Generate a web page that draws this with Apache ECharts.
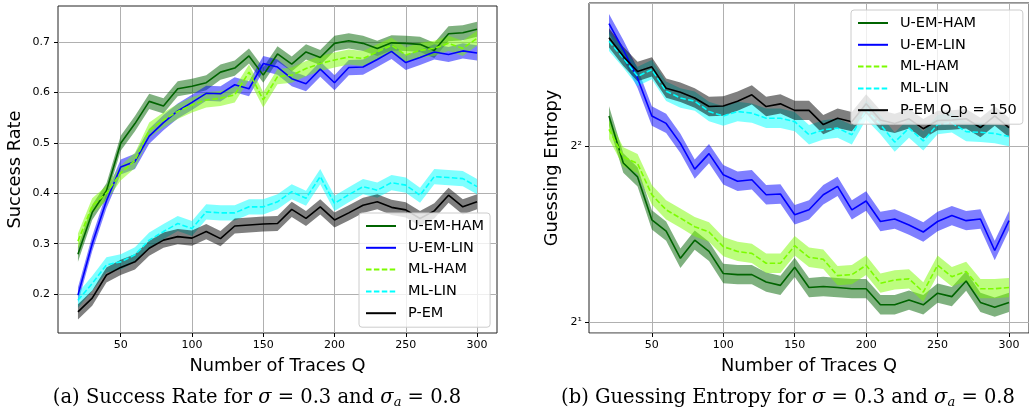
<!DOCTYPE html>
<html>
<head>
<meta charset="utf-8">
<script src="https://cdn.jsdelivr.net/npm/echarts@6/dist/echarts.min.js"></script>
<style>
  html, body { margin: 0; padding: 0; background: #fff; }
  #chart { width: 1029px; height: 414px; }
</style>
</head>
<body>
<div id="chart"></div>
<script>
// number of traces Q
const Q = [20, 30, 40, 50, 60, 70, 80, 90, 100, 110, 120, 130, 140, 150, 160, 170, 180, 190, 200, 210, 220, 230, 240, 250, 260, 270, 280, 290, 300];
const xTicks = [50, 100, 150, 200, 250, 300];
const srTicks = [0.2, 0.3, 0.4, 0.5, 0.6, 0.7];

// (a) success rate
const srUemHam = [0.279, 0.362, 0.405, 0.499, 0.538, 0.582, 0.573, 0.607, 0.612, 0.619, 0.640, 0.648, 0.672, 0.634, 0.676, 0.656, 0.680, 0.669, 0.697, 0.702, 0.697, 0.687, 0.698, 0.697, 0.695, 0.683, 0.716, 0.718, 0.725];
const srUemLin = [0.198, 0.300, 0.385, 0.452, 0.463, 0.513, 0.540, 0.563, 0.580, 0.598, 0.597, 0.615, 0.607, 0.657, 0.650, 0.627, 0.617, 0.646, 0.619, 0.649, 0.650, 0.665, 0.681, 0.659, 0.669, 0.680, 0.675, 0.682, 0.678];
const srMlHam = [0.305, 0.375, 0.400, 0.440, 0.465, 0.525, 0.545, 0.562, 0.575, 0.585, 0.588, 0.595, 0.640, 0.585, 0.631, 0.634, 0.647, 0.657, 0.664, 0.670, 0.667, 0.680, 0.693, 0.674, 0.683, 0.687, 0.697, 0.687, 0.707];
const srMlLin = [0.188, 0.221, 0.258, 0.264, 0.278, 0.307, 0.324, 0.340, 0.330, 0.363, 0.361, 0.361, 0.373, 0.373, 0.383, 0.403, 0.390, 0.433, 0.380, 0.397, 0.413, 0.406, 0.421, 0.416, 0.396, 0.433, 0.431, 0.429, 0.413];
const srPem = [0.165, 0.192, 0.238, 0.253, 0.264, 0.291, 0.307, 0.314, 0.311, 0.324, 0.310, 0.335, 0.337, 0.339, 0.340, 0.368, 0.350, 0.373, 0.347, 0.361, 0.376, 0.383, 0.372, 0.367, 0.350, 0.365, 0.396, 0.373, 0.383];
const srBand = 0.015;   // half width of the shaded band

// (b) guessing entropy
const geUemHam = [4.50, 3.74, 3.54, 2.99, 2.86, 2.57, 2.76, 2.64, 2.42, 2.41, 2.41, 2.34, 2.31, 2.48, 2.29, 2.30, 2.29, 2.28, 2.28, 2.14, 2.14, 2.18, 2.14, 2.24, 2.21, 2.35, 2.16, 2.12, 2.16];
const geUemLin = [6.47, 5.84, 5.22, 4.50, 4.37, 4.04, 3.65, 3.88, 3.57, 3.48, 3.50, 3.30, 3.31, 3.05, 3.11, 3.30, 3.41, 3.11, 3.22, 2.97, 3.00, 2.93, 2.85, 2.97, 3.04, 2.98, 3.00, 2.65, 2.98];
const geMlHam = [4.27, 3.83, 3.73, 3.30, 3.11, 3.01, 2.91, 2.85, 2.69, 2.64, 2.62, 2.52, 2.52, 2.70, 2.58, 2.56, 2.40, 2.41, 2.50, 2.33, 2.36, 2.37, 2.25, 2.50, 2.39, 2.44, 2.28, 2.28, 2.29];
const geMlLin = [6.04, 5.65, 5.26, 5.40, 4.96, 4.83, 4.77, 4.58, 4.50, 4.58, 4.55, 4.46, 4.46, 4.40, 4.18, 4.26, 4.29, 4.18, 4.61, 4.35, 4.06, 4.29, 4.08, 4.35, 4.38, 4.23, 4.22, 4.20, 4.15];
const gePem = [6.12, 5.69, 5.36, 5.46, 5.02, 4.94, 4.83, 4.67, 4.68, 4.77, 4.89, 4.67, 4.72, 4.60, 4.60, 4.35, 4.46, 4.40, 4.72, 4.43, 4.37, 4.45, 4.28, 4.42, 4.43, 4.45, 4.30, 4.50, 4.30];
const geBand = 0.055;   // half width of the band, in log2 units

const namesA = ['U-EM-HAM', 'U-EM-LIN', 'ML-HAM', 'ML-LIN', 'P-EM'];
const namesB = ['U-EM-HAM', 'U-EM-LIN', 'ML-HAM', 'ML-LIN', 'P-EM Q_p = 150'];
const lineColors = ['#006400', '#0000ff', '#7cfc00', '#00ffff', '#000000'];
const bandColors = ['rgba(0,100,0,0.5)', 'rgba(0,0,255,0.5)', 'rgba(124,252,0,0.5)', 'rgba(0,255,255,0.5)', 'rgba(0,0,0,0.5)'];
const dashed = [false, false, true, true, false];

const FONT = 'DejaVu Sans';
const SERIF = 'DejaVu Serif';
const chart = echarts.init(document.getElementById('chart'), null, { renderer: 'canvas' });

function bandSeries(idx, lo, hi, color) {
  return {
    type: 'custom',
    xAxisIndex: idx,
    yAxisIndex: idx,
    silent: true,
    clip: true,
    encode: { x: 0, y: [1, 2] },
    data: Q.map((q, i) => [q, lo[i], hi[i]]),
    renderItem: function (params, api) {
      if (params.dataIndex !== 0) return null;
      const top = Q.map((q, i) => api.coord([q, hi[i]]));
      const bot = Q.map((q, i) => api.coord([q, lo[i]])).reverse();
      return { type: 'polygon', shape: { points: top.concat(bot) }, style: { fill: color } };
    }
  };
}

function lineSeries(idx, name, values, k) {
  return {
    type: 'line',
    name: name,
    xAxisIndex: idx,
    yAxisIndex: idx,
    symbol: 'none',
    data: Q.map((q, i) => [q, values[i]]),
    lineStyle: { color: lineColors[k], width: 1.6, type: dashed[k] ? [5.5, 2.4] : 'solid' },
    itemStyle: { color: lineColors[k] }
  };
}

const series = [];
[srUemHam, srUemLin, srMlHam, srMlLin, srPem].forEach((vals, k) => {
  series.push(bandSeries(0, vals.map(v => v - srBand), vals.map(v => v + srBand), bandColors[k]));
  series.push(lineSeries(0, namesA[k], vals, k));
});
[geUemHam, geUemLin, geMlHam, geMlLin, gePem].forEach((vals, k) => {
  const f = Math.pow(2, geBand);
  series.push(bandSeries(1, vals.map(v => v / f), vals.map(v => v * f), bandColors[k]));
  series.push(lineSeries(1, namesB[k], vals, k));
});

const gridLine = { show: true, lineStyle: { color: '#b0b0b0', width: 1 } };
const tickStyle = { show: true, length: 4, inside: false, lineStyle: { color: '#000', width: 1 } };
const labelStyle = { color: '#000', fontSize: 11, fontFamily: FONT };
const nameStyle = { color: '#000', fontSize: 17.8, fontFamily: FONT };

function xAxis(idx) {
  return {
    type: 'value', gridIndex: idx, min: 6, max: 314,
    name: 'Number of Traces Q', nameLocation: 'middle', nameGap: 24, nameTextStyle: nameStyle,
    axisLine: { show: false },
    axisTick: Object.assign({ customValues: xTicks }, tickStyle),
    axisLabel: Object.assign({ customValues: xTicks, margin: 7 }, labelStyle),
    splitLine: gridLine
  };
}

function legend(names, left, top) {
  return {
    data: names, orient: 'vertical', left: left, top: top,
    itemWidth: 30, itemHeight: 14, itemGap: 5.8,
    padding: [5, 6, 6, 6],
    itemStyle: { opacity: 0 },
    backgroundColor: 'rgba(255,255,255,0.8)', borderColor: '#cccccc', borderWidth: 1, borderRadius: 3,
    textStyle: { fontSize: 14.5, fontFamily: FONT, color: '#000', lineHeight: 16, padding: [0, 0, 0, 7] },
    selectedMode: false
  };
}

function caption(x, text) {
  return {
    type: 'text', x: x, y: 398,
    style: {
      text: text,
      align: 'center', verticalAlign: 'middle',
      rich: {
        n: { fontFamily: SERIF, fontSize: 19.5, fill: '#000' },
        m: { fontFamily: SERIF, fontSize: 19.5, fontStyle: 'italic', fill: '#000' },
        s: { fontFamily: SERIF, fontSize: 13, fontStyle: 'italic', fill: '#000', padding: [9, 0, 0, 0] }
      }
    }
  };
}

const supers = { 0: '⁰', 1: '¹', 2: '²', 3: '³' };

const option = {
  animation: false,
  backgroundColor: '#fff',
  grid: [
    { left: 58, top: 6, width: 439, height: 327, show: true, borderColor: '#222', borderWidth: 1, backgroundColor: '#fff' },
    { left: 589, top: 3, width: 442, height: 330, show: true, borderColor: '#222', borderWidth: 1, backgroundColor: '#fff' }
  ],
  xAxis: [xAxis(0), xAxis(1)],
  yAxis: [
    {
      type: 'value', gridIndex: 0, min: 0.123, max: 0.771,
      name: 'Success Rate', nameLocation: 'middle', nameGap: 34, nameTextStyle: nameStyle,
      axisLine: { show: false },
      axisTick: Object.assign({ customValues: srTicks }, tickStyle),
      axisLabel: Object.assign({ customValues: srTicks, margin: 8, formatter: v => v.toFixed(1) }, labelStyle),
      splitLine: gridLine
    },
    {
      type: 'log', logBase: 2, gridIndex: 1, min: 1.915, max: 7.02,
      name: 'Guessing Entropy', nameLocation: 'middle', nameGap: 28, nameTextStyle: nameStyle,
      axisLine: { show: false },
      axisTick: tickStyle,
      minorTick: { show: false },
      axisLabel: Object.assign({
        margin: 7, showMinLabel: false, showMaxLabel: false,
        formatter: v => {
          const e = Math.log2(v);
          if (Math.abs(e - Math.round(e)) > 1e-6) return '';
          return '2' + supers[Math.round(e)];
        }
      }, labelStyle),
      splitLine: gridLine
    }
  ],
  legend: [legend(namesA, 359, 213), legend(namesB, 851, 10)],
  graphic: [
    caption(257, '{n|(a) Success Rate for }{m|σ}{n| = 0.3 and }{m|σ}{s|a}{n| = 0.8}'),
    caption(788, '{n|(b) Guessing Entropy for }{m|σ}{n| = 0.3 and }{m|σ}{s|a}{n| = 0.8}')
  ],
  series: series
};

chart.setOption(option);
</script>
</body>
</html>
